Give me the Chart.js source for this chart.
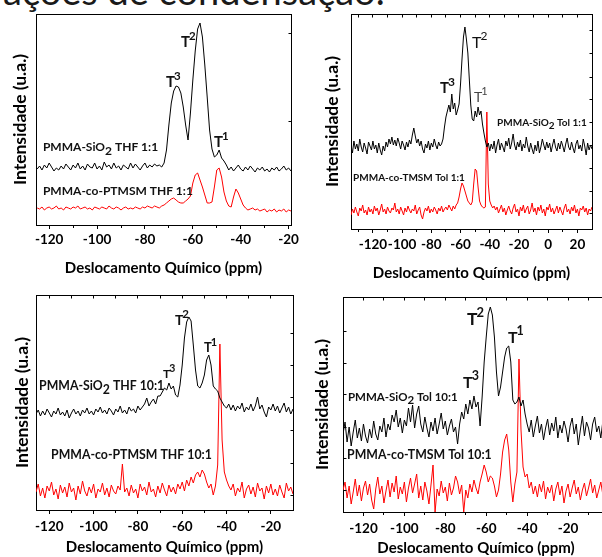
<!DOCTYPE html>
<html>
<head>
<meta charset="utf-8">
<script src="https://cdn.jsdelivr.net/npm/chart.js@4.4.1/dist/chart.umd.min.js"></script>
<style>
  body { margin: 0; background: #fff; }
  #wrap { position: relative; width: 602px; height: 557px; overflow: hidden; background: #fff; }
  #cap { position: absolute; left: 3px; top: -29px; font: 38px/38px Lato, sans-serif; color: #1a1a1a; white-space: nowrap; }
  canvas { position: absolute; }
</style>
</head>
<body>
<div id="wrap">
  <div id="cap">ações de condensação:</div>
  <canvas id="c1" width="300" height="280" style="left:0;top:0"></canvas>
  <canvas id="c2" width="302" height="284" style="left:300px;top:0"></canvas>
  <canvas id="c3" width="300" height="277" style="left:0;top:280px"></canvas>
  <canvas id="c4" width="330" height="277" style="left:300px;top:280px"></canvas>
</div>
<script>
// shift axis in ppm, one value per ppm starting at the given shift
const X_TITLE = 'Deslocamento Químico (ppm)';
const Y_TITLE = 'Intensidade (u.a.)';

// panel 1: THF 1:1
const start1 = -125;
const xTicks1 = [-120, -100, -80, -60, -40, -20];
const sio2Thf1 = [
  56, 59, 55, 60, 57, 62, 58, 54, 57, 55, 59, 56, 61, 58, 55, 60, 57, 62, 56, 59,
  55, 61, 58, 57, 62, 56, 59, 55, 63, 58, 60, 56, 62, 57, 59, 55, 60, 58, 56, 62,
  57, 61, 58, 55, 59, 62, 57, 60, 58, 61,
  59, 60, 58, 62, 75, 100, 122, 134, 139, 138,
  132, 118, 100, 85, 112, 145, 174, 196, 202, 188,
  160, 128, 95, 76, 68, 70, 75, 67, 64, 60,
  55, 58, 54, 57, 60, 56, 54, 58, 55, 59,
  56, 53, 57, 55, 58, 54, 56, 53, 57, 55,
  58, 54, 56, 59, 55, 57, 54, 58
];
const ptmsmThf1 = [
  17, 16, 18, 15, 17, 18, 16, 17, 19, 16, 17, 15, 18, 17, 16, 18, 17, 19, 16, 17,
  18, 16, 17, 15, 18, 17, 16, 18, 17, 16, 19, 17, 16, 18, 17, 15, 17, 18, 16, 17,
  16, 18, 17, 16, 18, 17, 19, 18, 17, 19,
  18, 17, 19, 20, 22, 24, 26, 27, 25, 23,
  22, 22, 24, 26, 29, 42, 50, 52, 45, 38,
  30, 22, 22, 23, 38, 55, 57, 48, 33, 24,
  19, 18, 28, 36, 32, 26, 20, 17, 15, 16,
  17, 15, 16, 14, 15, 16, 13, 15, 14, 16,
  13, 15, 14, 16, 13, 15, 14, 15
];

// panel 2: Tol 1:1
const start2 = -135;
const xTicks2 = [-120, -100, -80, -60, -40, -20, 0, 20];
const sio2Tol1 = [
  84, 76, 88, 80, 85, 78, 90, 82, 77, 86,
  81, 75, 87, 83, 79, 88, 80, 84, 76, 86,
  79, 74, 83, 78, 87, 82, 90, 85, 92, 84,
  89, 83, 91, 86, 80, 88, 84, 79, 87, 82,
  89, 85, 94, 101, 93, 86, 90, 83, 88, 80,
  76, 85, 81, 88, 79, 86, 82, 90, 84, 80,
  87, 83, 85, 90, 102, 112, 118, 124, 117, 135,
  120, 126, 114, 119, 125, 145, 170, 192, 202, 190,
  176, 150, 124, 110, 108, 118, 112, 122, 114, 118,
  105, 96, 88, 82, 86, 78, 85, 80, 88, 76,
  84, 90, 79, 86, 82, 77, 88, 83, 91, 80,
  86, 95, 84, 79, 87, 82, 89, 78, 85, 81,
  92, 83, 77, 86, 80, 75, 84, 78, 88, 76,
  82, 90, 84, 79, 87, 81, 86, 77, 84, 90,
  82, 78, 86, 80, 88, 83, 77, 85, 91, 82,
  79, 87, 81, 76, 85, 89, 80, 84, 78, 90,
  83, 74, 86, 79, 84, 80
];
const tmsmTol1 = [
  14, 20, 16, 22, 17, 13, 21, 18, 24, 16,
  19, 14, 22, 17, 20, 15, 23, 18, 21, 14,
  19, 25, 17, 20, 15, 22, 18, 16, 21, 19,
  26, 17, 20, 15, 22, 18, 14, 21, 17, 23,
  19, 16, 20, 18, 24, 15, 19, 22, 14, 10,
  17, 21, 18, 23, 16, 20, 17, 22, 19, 15,
  21, 18, 23, 17, 20, 22, 19, 24, 21, 18,
  23, 20, 24, 26, 32, 40, 46, 43, 38, 33,
  28, 26, 24, 27, 45, 60, 58, 42, 28, 24,
  22, 21, 22, 117, 45, 28, 24, 21, 23, 19,
  22, 16, 20, 24, 17, 21, 14, 19, 23, 18,
  15, 21, 25, 17, 20, 13, 22, 18, 24, 16,
  20, 23, 15, 19, 26, 17, 21, 14, 22, 18,
  24, 16, 20, 13, 22, 19, 25, 17, 21, 15,
  19, 23, 16, 22, 18, 14, 21, 25, 17, 20,
  15, 22, 18, 24, 16, 20, 13, 21, 19, 23,
  17, 21, 14, 20, 18, 22
];

// panel 3: THF 10:1
const start3 = -126;
const xTicks3 = [-120, -100, -80, -60, -40, -20];
const sio2Thf10 = [
  96, 100, 94, 99, 95, 101, 97, 93, 99, 96,
  102, 95, 98, 94, 100, 92, 97, 101, 96, 99,
  94, 100, 97, 102, 96, 99, 95, 101, 98, 103,
  97, 100, 96, 102, 99, 95, 101, 98, 104, 97,
  100, 96, 103, 99, 101, 97, 104, 100, 103, 106,
  112, 104, 108, 111, 106, 114, 114, 118, 122, 120,
  127, 121, 124, 115, 113, 125, 145, 172, 188, 193,
  189, 165, 140, 124, 122, 127, 135, 150, 155, 145,
  124, 121, 119, 112, 108, 104, 102, 106, 100, 105,
  99, 104, 101, 107, 98, 103, 100, 106, 99, 104,
  113, 101, 105, 98, 93, 103, 100, 106, 99, 104,
  97, 102, 107, 98, 103, 96, 101
];
const ptmsmThf10 = [
  18, 26, 14, 22, 12, 24, 19, 28, 15, 21,
  11, 25, 17, 23, 13, 27, 18, 22, 10, 24,
  16, 29, 19, 14, 23, 17, 26, 12, 21, 18,
  27, 15, 22, 13, 25, 19, 16, 24, 20, 46,
  18, 22, 14, 25, 17, 21, 12, 26, 19, 23,
  15, 28, 18, 21, 13, 24, 17, 27, 20, 14,
  25, 18, 23, 16, 26, 21, 28, 19, 30, 24,
  33, 27, 35, 38, 33, 40, 36, 28, 22, 26,
  15, 24, 45, 166, 70, 38, 30, 24, 20, 26,
  14, 22, 18, 28, 12, 21, 25, 16, 23, 13,
  27, 19, 22, 11, 24, 17, 26, 15, 21, 14,
  25, 18, 12, 27, 19, 23, 16
];

// panel 4: Tol 10:1
const start4 = -130;
const xTicks4 = [-120, -100, -80, -60, -40, -20, 0];
const sio2Tol10 = [
  78, 90, 70, 85, 66, 80, 92, 74, 84, 71,
  88, 76, 69, 83, 74, 91, 78, 72, 86, 80,
  94, 75, 88, 82, 97, 90, 102, 85, 94, 79,
  92, 86, 104, 90, 107, 84, 98, 106, 88, 80,
  95, 84, 75, 90, 81, 94, 78, 88, 99, 83,
  91, 77, 86, 93, 80, 85, 68, 88, 100, 93,
  108, 98, 112, 103, 116, 105, 110, 86, 115, 150,
  175, 198, 205, 197, 175, 140, 116, 125, 140, 155,
  164, 166, 150, 112, 108, 110, 115, 106, 112, 98,
  88, 80, 92, 75, 86, 96, 79, 88, 72, 84,
  93, 77, 89, 81, 95, 74, 87, 79, 91, 83,
  70, 86, 94, 78, 88, 67, 82, 96, 76, 90,
  84, 72, 88, 95, 80, 86, 74, 91, 79, 68,
  85, 90, 78, 84, 76, 88
];
const tmsmTol10 = [
  22, 30, 14, 26, 8, 20, 33, 16, 27, 11,
  24, 31, 17, 28, 12, 3, 23, 35, 18, 26,
  9, 21, 32, 15, 29, 20, 36, 13, 25, 18,
  30, 10, 24, 34, 19, 28, 38, 14, 26, 12,
  30, 21, 8, 27, 47, 0, 23, 16, 31, 19,
  25, 11, 29, 17, 24, 36, 30, 18, 27, 0,
  22, 14, 28, 20, 32, 24, 18, 30, 38, 47,
  40, 30, 36, 34, 26, 15, 22, 38, 60, 72,
  78, 62, 30, 10, 28, 40, 153, 82, 45, 35,
  38, 24, 30, 18, 26, 15, 28, 20, 31, 13,
  25, 19, 27, 11, 23, 30, 17, 26, 9, 21,
  28, 15, 24, 32, 18, 25, 12, 22, 29, 16,
  24, 33, 19, 27, 14, 22, 30, 17, 25, 13,
  21, 28, 18, 24, 15, 22
];

// inner tick marks on the frame (intensity units for y)
const rightTicks1 = [103, 192];
const rightTicks2 = [16, 38, 61, 84, 107, 130, 152, 176, 199];
const rightTicks3 = [15, 47, 80, 113, 145, 177];
const leftTicks4 = [22, 54, 85, 117, 149, 180];

const FONT = 'Lato, sans-serif';

function toPoints(start, values) {
  return values.map((v, i) => ({ x: start + i, y: v }));
}

function tLab(x, y, sup, size, supSize, weight, color) {
  const w = weight || 'bold';
  return { x, y, color, parts: [
    { t: 'T', size, w },
    { t: sup, size: supSize, w, dy: -0.47 * size, dx: -1 }
  ] };
}

function sLab(x, y, a, b, size) {
  const parts = [{ t: a, size, w: 'bold' }];
  if (b !== undefined) {
    parts.push({ t: '2', size, w: 'bold', dy: size * 0.32 });
    parts.push({ t: b, size, w: 'bold' });
  }
  return { x, y, baseline: 'middle', parts };
}

const align = v => Math.round(v - 0.5) + 0.5;

const frame = {
  id: 'frame',
  afterDraw(chart, args, o) {
    const { ctx, chartArea: a, scales: { x, y } } = chart;
    const L = align(a.left), R = align(a.right), T = align(a.top), B = align(a.bottom);
    ctx.save();
    ctx.strokeStyle = '#000';
    ctx.lineWidth = 1;
    ctx.beginPath();
    if (o.top) { ctx.moveTo(L - 0.5, T); ctx.lineTo(R + 0.5, T); }
    if (o.right) { ctx.moveTo(R, T); ctx.lineTo(R, B); }
    // minor ticks on the shift axis
    (o.majors || []).forEach(v => {
      [v - 10, v + 10].forEach(m => {
        if (m > x.min && m < x.max && !o.majors.includes(m)) {
          const px = align(x.getPixelForValue(m));
          ctx.moveTo(px, B); ctx.lineTo(px, B + 2.5);
        }
      });
    });
    if (o.topStep) {
      for (let v = Math.ceil(x.min / o.topStep) * o.topStep; v < x.max; v += o.topStep) {
        const px = align(x.getPixelForValue(v));
        ctx.moveTo(px, T); ctx.lineTo(px, T + 3);
      }
    }
    (o.rightTicks || []).forEach(v => {
      const py = align(y.getPixelForValue(v));
      ctx.moveTo(R, py); ctx.lineTo(R - 3, py);
    });
    (o.leftTicks || []).forEach(v => {
      const py = align(y.getPixelForValue(v));
      ctx.moveTo(L, py); ctx.lineTo(L + 3, py);
    });
    ctx.stroke();
    ctx.restore();
  }
};

const notes = {
  id: 'notes',
  afterDatasetsDraw(chart, args, opts) {
    const { ctx, scales: { x, y } } = chart;
    ctx.save();
    (opts.items || []).forEach(it => {
      let px = x.getPixelForValue(it.x);
      const py = y.getPixelForValue(it.y);
      ctx.fillStyle = it.color || '#111';
      ctx.textBaseline = it.baseline || 'alphabetic';
      it.parts.forEach(p => {
        ctx.font = `${p.w} ${p.size}px ${FONT}`;
        px += p.dx || 0;
        ctx.fillText(p.t, px, py + (p.dy || 0));
        px += ctx.measureText(p.t).width;
      });
    });
    ctx.restore();
  }
};

function makePanel(id, c) {
  new Chart(document.getElementById(id), {
    type: 'line',
    data: {
      datasets: [
        { data: toPoints(c.start, c.black), borderColor: '#000', borderWidth: 1 },
        { data: toPoints(c.start, c.red), borderColor: '#ff0000', borderWidth: 1 }
      ]
    },
    options: {
      responsive: false,
      animation: false,
      devicePixelRatio: 1,
      parsing: false,
      elements: { point: { radius: 0 }, line: { tension: 0 } },
      layout: { padding: { left: 0, top: c.pad.top, right: c.pad.right, bottom: 0 } },
      plugins: {
        legend: { display: false },
        tooltip: { enabled: false },
        frame: c.frame,
        notes: { items: c.notes }
      },
      scales: {
        x: {
          type: 'linear',
          min: c.xMin,
          max: c.xMax,
          afterBuildTicks: s => { s.ticks = c.ticks.map(v => ({ value: v })); },
          afterFit: s => { s.height = c.xHeight; s.paddingLeft = 0; s.paddingRight = 0; },
          grid: { display: true, drawOnChartArea: false, drawTicks: true, tickLength: 4, color: '#000' },
          border: { display: true, color: '#000', width: 1 },
          ticks: {
            autoSkip: false, maxRotation: 0, padding: c.tickPad, color: '#000',
            font: { family: FONT, weight: 'bold', size: 13.5 }
          },
          title: {
            display: true, text: X_TITLE, color: '#000',
            font: { family: FONT, weight: 'bold', size: 15 },
            padding: { top: 0, bottom: c.xTitlePad }
          }
        },
        y: {
          min: 0,
          max: c.yMax,
          afterFit: s => { s.width = c.yWidth; s.paddingTop = 0; s.paddingBottom = 0; },
          grid: { display: false },
          border: { display: true, color: '#000', width: 1 },
          ticks: { display: false },
          title: {
            display: true, text: Y_TITLE, color: '#000',
            font: { family: FONT, weight: 'bold', size: 17.5 },
            padding: { top: c.yTitlePad, bottom: 0 }
          }
        }
      }
    },
    plugins: [frame, notes]
  });
}

makePanel('c1', {
  start: start1, black: sio2Thf1, red: ptmsmThf1, ticks: xTicks1,
  xMin: -125.5, xMax: -19, yMax: 211,
  pad: { top: 14, right: 9 }, yWidth: 36, xHeight: 55, yTitlePad: 10, xTitlePad: 3, tickPad: 3,
  frame: { top: true, right: true, majors: xTicks1, rightTicks: rightTicks1 },
  notes: [
    tLab(-64.9, 178, '2', 15, 11.5),
    tLab(-71.2, 138, '3', 15, 11.5),
    tLab(-51.2, 78, '1', 15, 11.5),
    sLab(-122.6, 78, 'PMMA-SiO', ' THF 1:1', 12),
    sLab(-122.6, 34, 'PMMA-co-PTMSM THF 1:1', undefined, 12)
  ]
});

makePanel('c2', {
  start: start2, black: sio2Tol1, red: tmsmTol1, ticks: xTicks2,
  xMin: -135, xMax: 30, yMax: 215,
  pad: { top: 14, right: 10 }, yWidth: 51, xHeight: 55, yTitlePad: 22, xTitlePad: 2, tickPad: 3.5,
  frame: { top: true, right: true, majors: xTicks2, topStep: 10, rightTicks: rightTicks2 },
  notes: [
    tLab(-52.2, 181, '2', 16, 12, 'normal'),
    tLab(-74.1, 136, '3', 15, 12),
    tLab(-50.8, 127, '1', 14, 11, 'normal', '#444'),
    sLab(-35, 106, 'PMMA-SiO', ' Tol 1:1', 10),
    sLab(-133.6, 51, 'PMMA-co-TMSM Tol 1:1', undefined, 10)
  ]
});

makePanel('c3', {
  start: start3, black: sio2Thf10, red: ptmsmThf10, ticks: xTicks3,
  xMin: -126, xMax: -10, yMax: 215,
  pad: { top: 15, right: 7 }, yWidth: 36, xHeight: 47, yTitlePad: 12, xTitlePad: 1.3, tickPad: 4.2,
  frame: { top: true, right: true, majors: xTicks3, topStep: 10, rightTicks: rightTicks3 },
  notes: [
    tLab(-63.3, 185, '2', 14, 11.5),
    tLab(-50.2, 158, '1', 13, 11),
    tLab(-68.7, 132, '3', 12, 10.5),
    sLab(-124.6, 124, 'PMMA-SiO', ' THF 10:1', 12.3),
    sLab(-119.2, 55, 'PMMA-co-PTMSM THF 10:1', undefined, 12.3)
  ]
});

makePanel('c4', {
  start: start4, black: sio2Tol10, red: tmsmTol10, ticks: xTicks4,
  xMin: -130, xMax: 0, yMax: 215,
  pad: { top: 17, right: 21 }, yWidth: 43, xHeight: 45, yTitlePad: 12, xTitlePad: 0, tickPad: 4.5,
  frame: { top: true, right: true, majors: xTicks4, topStep: 10, leftTicks: leftTicks4 },
  notes: [
    tLab(-69.4, 187, '2', 17.5, 13),
    tLab(-49.4, 169, '1', 16, 12.5),
    tLab(-71.3, 124, '3', 16, 12.5),
    sLab(-127.6, 115, 'PMMA-SiO', ' Tol 10:1', 11.5),
    sLab(-128, 57, 'PMMA-co-TMSM Tol 10:1', undefined, 12.3)
  ]
});
</script>
</body>
</html>
